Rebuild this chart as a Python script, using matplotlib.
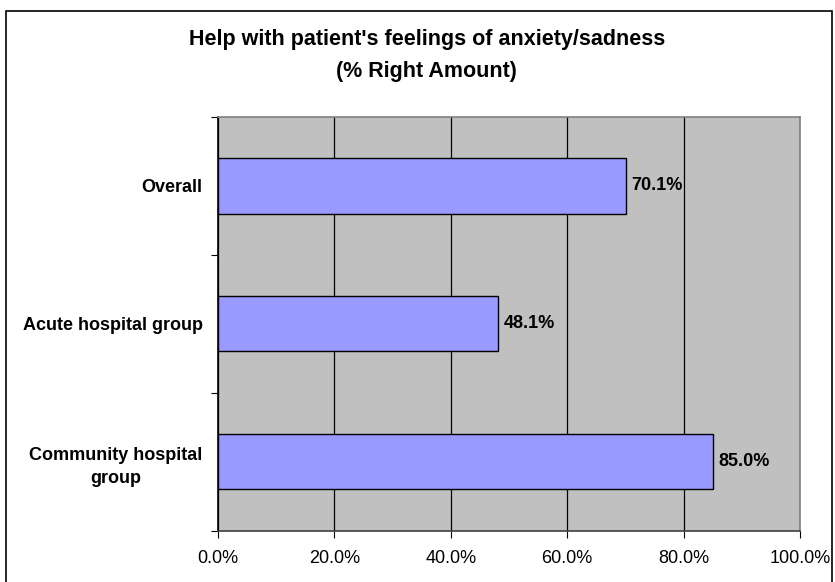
import matplotlib.pyplot as plt
import matplotlib.patches as patches
from matplotlib.ticker import FixedLocator, FuncFormatter

# --- Data ---
categories = ["Community hospital\ngroup", "Acute hospital group", "Overall"]
right_amount = [85.0, 48.1, 70.1]
x_ticks = [0, 20, 40, 60, 80, 100]

plt.rcParams["font.family"] = ["Liberation Sans", "DejaVu Sans"]

fig = plt.figure(figsize=(8.35, 5.82), dpi=100)
ax = fig.add_axes([0.261, 0.088, 0.697, 0.711])
ax.set_facecolor("#C0C0C0")

pos = list(range(len(categories)))
ax.barh(pos, right_amount, height=0.4, color="#9999FF", edgecolor="black",
        linewidth=1, zorder=3)

for y, v in zip(pos, right_amount):
    ax.text(v + 1.0, y, f"{v:.1f}%", va="center", ha="left",
            fontsize=13, fontweight="bold", zorder=4)

ax.set_xlim(0, 100)
ax.set_ylim(-0.5, len(categories) - 0.5)
ax.xaxis.set_major_locator(FixedLocator(x_ticks))
ax.xaxis.set_major_formatter(FuncFormatter(lambda v, _: f"{v:.1f}%"))
ax.grid(axis="x", color="black", linewidth=0.9, zorder=1)
ax.set_axisbelow(True)

ax.set_yticks(pos)
ax.set_yticklabels(categories, fontsize=13, fontweight="bold",
                   ha="right", multialignment="center", linespacing=1.45)
ax.yaxis.set_minor_locator(FixedLocator([-0.5, 0.5, 1.5, 2.5]))
ax.tick_params(axis="y", which="major", length=0, pad=11)
ax.tick_params(axis="y", which="minor", length=5, direction="out", width=0.8)
ax.tick_params(axis="x", length=5, direction="out", width=0.8,
               labelsize=13, pad=9)

for side in ("top", "right"):
    ax.spines[side].set_color("#808080")
ax.spines["left"].set_color("black")
ax.spines["bottom"].set_color("#404040")
for s in ax.spines.values():
    s.set_linewidth(1.2)

fig.text(0.511, 1 - 39 / 582, "Help with patient's feelings of anxiety/sadness",
         ha="center", va="center", fontsize=15.5, fontweight="bold")
fig.text(0.511, 1 - 72 / 582, "(% Right Amount)",
         ha="center", va="center", fontsize=15.5, fontweight="bold")

# chart border
fig.patches.append(patches.Rectangle((6 / 835, -0.02), 826 / 835, 0.02 + 571 / 582,
                                     transform=fig.transFigure, fill=False,
                                     edgecolor="black", linewidth=1.2))

fig.savefig("out.png", dpi=100)
